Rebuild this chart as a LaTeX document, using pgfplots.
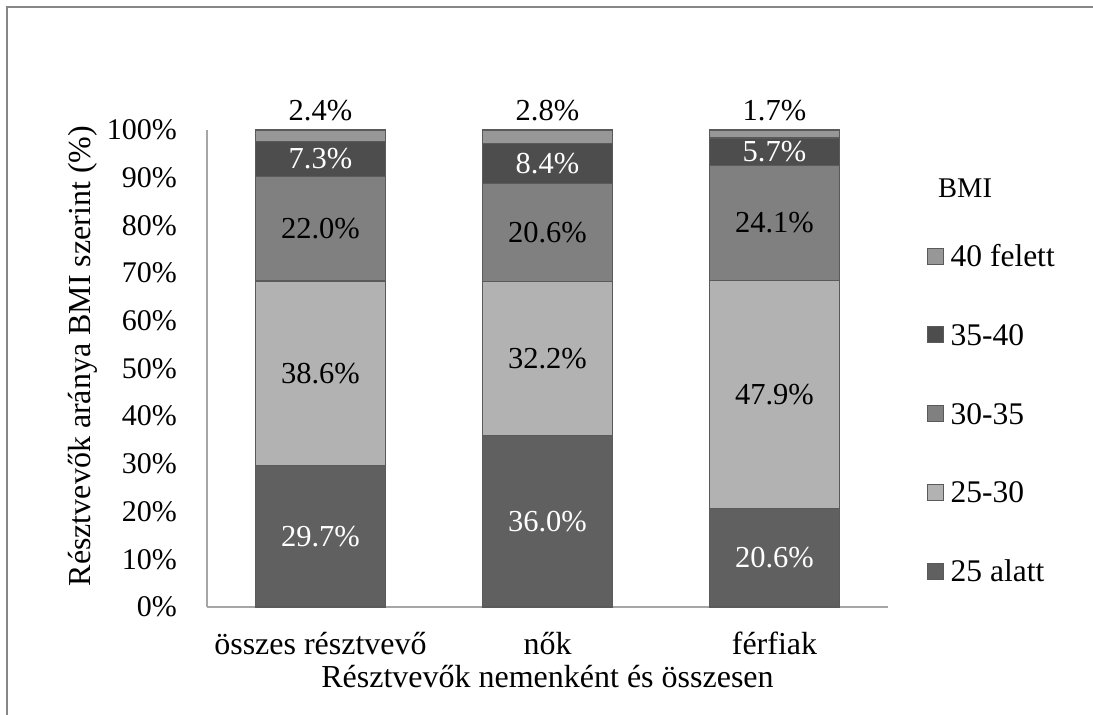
\documentclass[border=0pt]{standalone}
\usepackage{pgfplots}
\pgfplotsset{compat=1.18}
\usepackage{pgfplotstable}
\usepackage{fontspec}
\setmainfont{Liberation Serif}

% BMI category fills
\definecolor{cAlatt}{HTML}{606060}
\definecolor{cHuszonot}{HTML}{B2B2B2}
\definecolor{cHarminc}{HTML}{808080}
\definecolor{cHarmincot}{HTML}{4D4D4D}
\definecolor{cFelett}{HTML}{979797}
\definecolor{cBorder}{HTML}{5A5A5A}
\definecolor{cAxis}{HTML}{A6A6A6}
\definecolor{cFrame}{HTML}{878787}

% share of participants (%) per BMI class: 0 = összes, 1 = nők, 2 = férfiak
\pgfplotstableread{
x v
0 29.7
1 36.0
2 20.6
}\tblAlatt
\pgfplotstableread{
x v
0 38.6
1 32.2
2 47.9
}\tblHuszonot
\pgfplotstableread{
x v
0 22.0
1 20.6
2 24.1
}\tblHarminc
\pgfplotstableread{
x v
0 7.3
1 8.4
2 5.7
}\tblHarmincot
\pgfplotstableread{
x v
0 2.4
1 2.8
2 1.7
}\tblFelett

\begin{document}
\begin{tikzpicture}
\useasboundingbox (0pt,0pt) rectangle (1093pt,715pt);
\draw[cFrame, line width=2pt] (7pt,0pt) -- (7pt,708pt) -- (1093pt,708pt);
\node[anchor=base west, inner sep=0pt, font=\fontsize{28.5}{34}\selectfont] at (938pt,517pt) {BMI};
\begin{axis}[
  at={(207pt,108pt)}, anchor=south west,
  scale only axis, width=681pt, height=477pt,
  xmin=-0.5, xmax=2.5, ymin=0, ymax=100,
  axis x line=bottom, axis y line=left,
  axis line style={draw=cAxis, line width=1.5pt, -},
  major tick length=0pt,
  xtick={0,1,2},
  xticklabels={összes résztvevő, nők, férfiak},
  xticklabel style={anchor=base, inner sep=0pt, yshift=-48pt, font=\fontsize{32}{38}\selectfont},
  ytick={0,10,...,100},
  yticklabels={0\%,10\%,20\%,30\%,40\%,50\%,60\%,70\%,80\%,90\%,100\%},
  yticklabel style={anchor=east, inner sep=0pt, xshift=-30pt, font=\fontsize{30}{36}\selectfont},
  xlabel={Résztvevők nemenként és összesen},
  xlabel style={at={(axis description cs:0.5,-0.1698)}, anchor=base, inner sep=0pt, font=\fontsize{32}{38}\selectfont},
  ylabel={Résztvevők aránya BMI szerint (\%)},
  ylabel style={at={(axis description cs:-0.171,0.526)}, anchor=base, inner sep=0pt, font=\fontsize{32}{38}\selectfont},
  clip=false,
  ybar stacked, bar width=130pt,
  point meta=explicit,
  visualization depends on={\thisrow{v} \as \rawv},
  nodes near coords={\pgfmathprintnumber[fixed,fixed zerofill,precision=1,assume math mode=true]{\pgfplotspointmeta}\%},
  % labels sit in the middle of their segment
  every node near coord/.append style={anchor=center, inner sep=0pt,
    font=\fontsize{30.5}{36}\selectfont},
  legend image code/.code={\draw[#1, line width=1pt] (0pt,-8pt) rectangle (16pt,8pt);},
  reverse legend,
  legend style={draw=none, fill=none, at={(axis description cs:1.0565,0.7579)}, anchor=north west,
    inner sep=0pt, row sep=57.75pt, column sep=7pt,
    font=\fontsize{31.5}{38}\selectfont,
    nodes={inner sep=0pt, text height=21pt, text depth=0pt},
    cells={anchor=west}},
]
\addplot[fill=cAlatt, draw=cBorder, line width=1.5pt,
  every node near coord/.append style={text=white}]
  table[x=x, y=v, meta=v] {\tblAlatt};
\addlegendentry{25 alatt}
\addplot[fill=cHuszonot, draw=cBorder, line width=1.5pt,
  every node near coord/.append style={text=black}]
  table[x=x, y=v, meta=v] {\tblHuszonot};
\addlegendentry{25-30}
\addplot[fill=cHarminc, draw=cBorder, line width=1.5pt,
  every node near coord/.append style={text=black}]
  table[x=x, y=v, meta=v] {\tblHarminc};
\addlegendentry{30-35}
\addplot[fill=cHarmincot, draw=cBorder, line width=1.5pt,
  every node near coord/.append style={text=white}]
  table[x=x, y=v, meta=v] {\tblHarmincot};
\addlegendentry{35-40}
% the thin top class is labelled just above the bar
\addplot[fill=cFelett, draw=cBorder, line width=1.5pt,
  every node near coord/.style={anchor=base, inner sep=0pt, text=black,
    shift={(axis direction cs:0,\rawv/2)}, yshift=9pt,
    font=\fontsize{30.5}{36}\selectfont}]
  table[x=x, y=v, meta=v] {\tblFelett};
\addlegendentry{40 felett}
\end{axis}
\end{tikzpicture}
\end{document}
